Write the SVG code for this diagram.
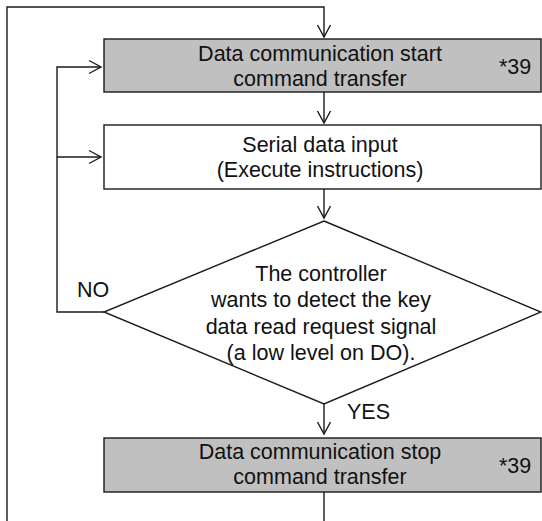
<svg xmlns="http://www.w3.org/2000/svg" width="542" height="521" viewBox="0 0 542 521">
<style>
.ln{fill:none;stroke:#1a1a1a;stroke-width:1.4}
.box{stroke:#1a1a1a;stroke-width:1.4}
.g{fill:#c0c0c0}
.w{fill:#ffffff}
text{font-family:"Liberation Sans",Arial,sans-serif;font-size:21.5px;fill:#111}
.c{text-anchor:middle}
</style>
<defs>
<marker id="ah" markerUnits="userSpaceOnUse" markerWidth="16" markerHeight="16" viewBox="-13 -8 16 16" refX="0" refY="0" orient="auto">
<path d="M-12,-6.5 L0,0 L-12,6.5" fill="none" stroke="#1a1a1a" stroke-width="1.4"/>
</marker>
</defs>
<rect width="542" height="521" fill="#ffffff"/>
<g id="connectors">
<path class="ln" d="M7,521 V7 H324 V37" marker-end="url(#ah)"/>
<path class="ln" d="M324,92 V123" marker-end="url(#ah)"/>
<path class="ln" d="M324,189 V218" marker-end="url(#ah)"/>
<path class="ln" d="M324,404 V434" marker-end="url(#ah)"/>
<path class="ln" d="M324,492 V521"/>
<path class="ln" d="M104,312 H57 V67 H101" marker-end="url(#ah)"/>
<path class="ln" d="M57,157 H101" marker-end="url(#ah)"/>
<text x="77" y="297">NO</text>
<text x="347" y="419">YES</text>
</g>
<g id="start">
<rect class="box g" x="104" y="39" width="437" height="53"/>
<text class="c" x="320" y="61">Data communication start</text>
<text class="c" x="320" y="86">command transfer</text>
<text x="499" y="74">*39</text>
</g>
<g id="serial">
<rect class="box w" x="104" y="125" width="437" height="64"/>
<text class="c" x="320" y="152">Serial data input</text>
<text class="c" x="320" y="177">(Execute instructions)</text>
</g>
<g id="decision">
<polygon class="box w" points="324,221 541,312 324,404 104,312"/>
<text class="c" x="321" y="281">The controller</text>
<text class="c" x="321" y="307">wants to detect the key</text>
<text class="c" x="321" y="334">data read request signal</text>
<text class="c" x="321" y="360">(a low level on DO).</text>
</g>
<g id="stop">
<rect class="box g" x="104" y="438" width="437" height="54"/>
<text class="c" x="320" y="459">Data communication stop</text>
<text class="c" x="320" y="484">command transfer</text>
<text x="499" y="473">*39</text>
</g>
</svg>
